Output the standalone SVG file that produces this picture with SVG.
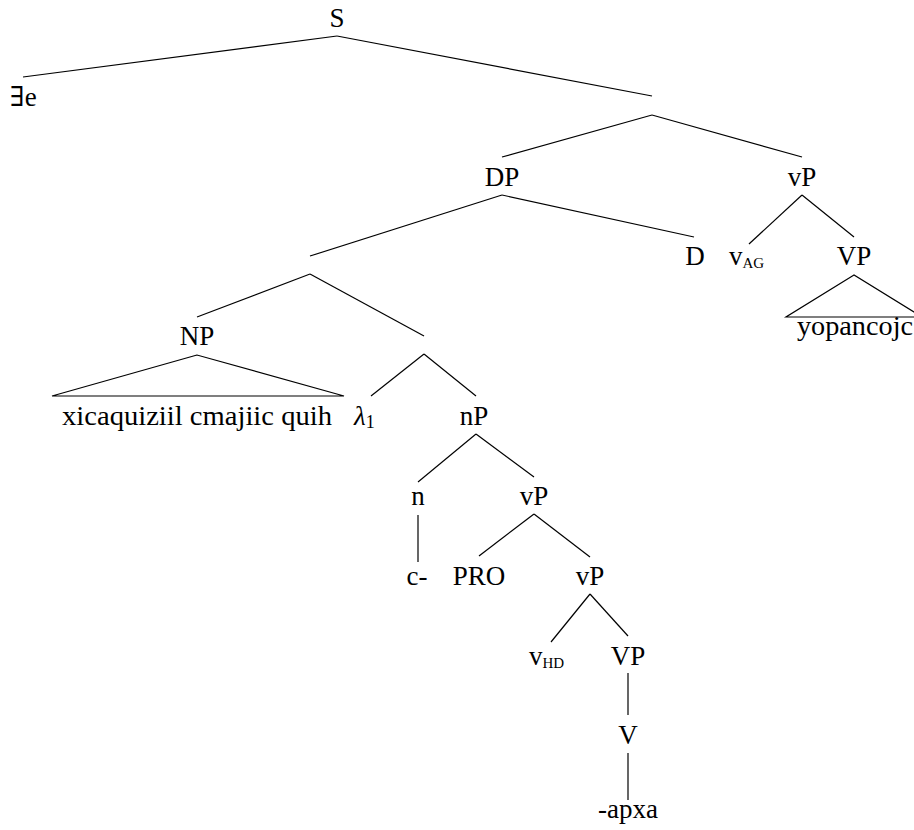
<svg xmlns="http://www.w3.org/2000/svg" width="914" height="830" viewBox="0 0 914 830">
  <style>
    .lbl text { font-size: 27px; fill: #000; }
    .c { text-anchor: middle; }
    .sub { font-size: 15px; }
    .sub1 { font-size: 18px; }
    .lam { font-style: italic; }
    .edge { stroke: #000; stroke-width: 1.2; fill: none; }
  </style>
  <rect width="914" height="830" fill="#fff"/>

  <!-- branches -->
  <g id="connectors" class="edge">
    <line x1="337" y1="36" x2="23" y2="77"/>
    <line x1="337" y1="36" x2="652" y2="96"/>
    <line x1="652" y1="115" x2="502" y2="157"/>
    <line x1="652" y1="115" x2="802" y2="157"/>
    <line x1="502" y1="195" x2="310" y2="256"/>
    <line x1="502" y1="195" x2="694" y2="237"/>
    <line x1="802" y1="195" x2="749" y2="244"/>
    <line x1="802" y1="195" x2="854" y2="237"/>
    <polygon points="854,275 786,317 922,317"/>
    <line x1="310" y1="274" x2="197" y2="317"/>
    <line x1="310" y1="274" x2="424" y2="336"/>
    <polygon points="197,355 52,396 344,396"/>
    <line x1="424" y1="354" x2="371" y2="396"/>
    <line x1="424" y1="354" x2="476" y2="396"/>
    <line x1="476" y1="434" x2="418" y2="482"/>
    <line x1="476" y1="434" x2="534" y2="477"/>
    <line x1="418" y1="515" x2="418" y2="562"/>
    <line x1="534" y1="514" x2="479" y2="556"/>
    <line x1="534" y1="514" x2="590" y2="557"/>
    <line x1="590" y1="594" x2="551" y2="642"/>
    <line x1="590" y1="594" x2="628" y2="636"/>
    <line x1="628" y1="673" x2="628" y2="715"/>
    <line x1="628" y1="753" x2="628" y2="800"/>
  </g>

  <g class="lbl" font-family="'Liberation Serif', 'DejaVu Serif', 'Noto Serif', 'Times New Roman', serif">
    <g id="S"><text class="c" x="337" y="27">S</text></g>
    <g id="exists"><text x="10" y="106">∃e</text></g>
    <g id="DP"><text class="c" x="502" y="186">DP</text></g>
    <g id="vP-top"><text class="c" x="802" y="186">vP</text></g>
    <g id="D"><text class="c" x="695" y="265">D</text></g>
    <g id="vAG"><text x="729" y="265">v<tspan class="sub" dy="3">AG</tspan></text></g>
    <g id="VP-top"><text class="c" x="854" y="265">VP</text></g>
    <g id="yopancojc"><text x="797" y="335" textLength="116" lengthAdjust="spacingAndGlyphs">yopancojc</text></g>
    <g id="NP"><text class="c" x="197" y="345">NP</text></g>
    <g id="NP-words"><text x="62" y="425" textLength="270" lengthAdjust="spacingAndGlyphs">xicaquiziil cmajiic quih</text></g>
    <g id="lambda"><text x="354" y="425"><tspan class="lam">λ</tspan><tspan class="sub1" dy="3">1</tspan></text></g>
    <g id="nP"><text class="c" x="474" y="425">nP</text></g>
    <g id="n"><text class="c" x="418" y="505">n</text></g>
    <g id="vP-mid"><text class="c" x="534" y="505">vP</text></g>
    <g id="c"><text class="c" x="417" y="585">c-</text></g>
    <g id="PRO"><text class="c" x="479" y="585">PRO</text></g>
    <g id="vP-low"><text class="c" x="590" y="585">vP</text></g>
    <g id="vHD"><text x="529" y="665">v<tspan class="sub" dy="3">HD</tspan></text></g>
    <g id="VP-low"><text class="c" x="628" y="665">VP</text></g>
    <g id="V"><text class="c" x="628" y="744">V</text></g>
    <g id="apxa"><text class="c" x="628" y="818">-apxa</text></g>
  </g>
</svg>
